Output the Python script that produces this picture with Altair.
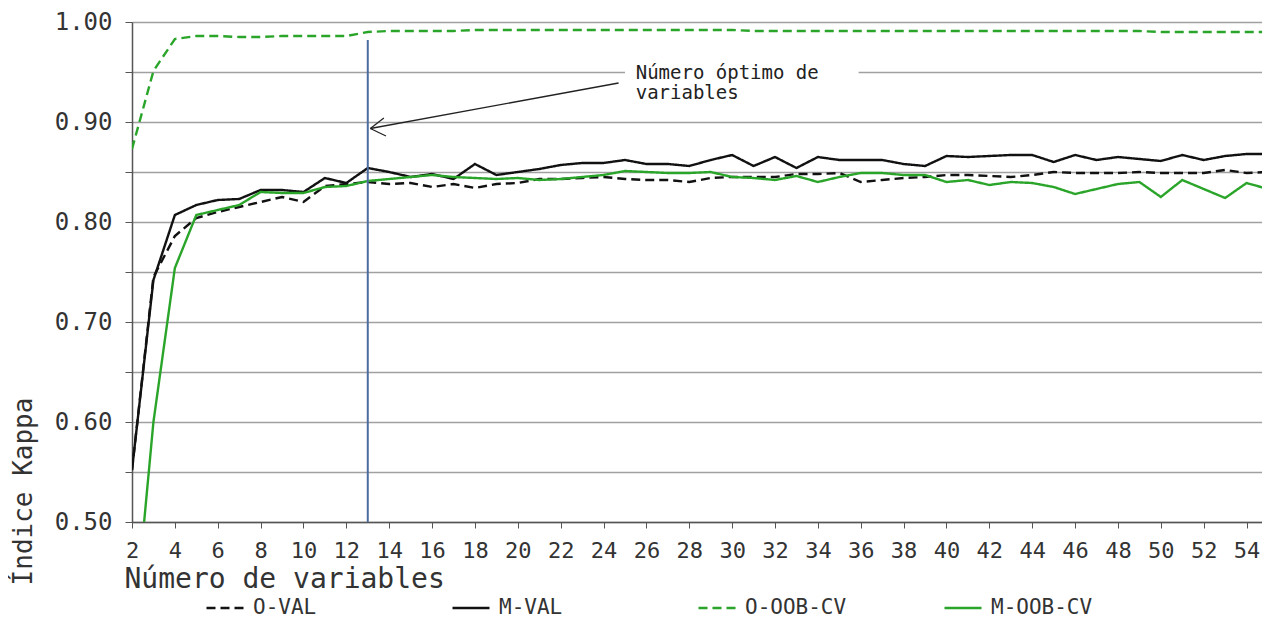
import altair as alt
import pandas as pd

# ---------------- data ----------------
x_vals = list(range(2, 56))

o_val = [0.552, 0.745, 0.786, 0.804, 0.810, 0.815, 0.820, 0.825, 0.820, 0.836,
         0.838, 0.840, 0.838, 0.839, 0.835, 0.838, 0.834, 0.838, 0.839, 0.843,
         0.843, 0.844, 0.845, 0.843, 0.842, 0.842, 0.840, 0.844, 0.845, 0.845,
         0.845, 0.848, 0.848, 0.849, 0.840, 0.842, 0.844, 0.845, 0.847, 0.847,
         0.846, 0.845, 0.847, 0.850, 0.849, 0.849, 0.849, 0.850, 0.849, 0.849,
         0.849, 0.852, 0.849, 0.850]

m_val = [0.552, 0.742, 0.807, 0.817, 0.822, 0.823, 0.832, 0.832, 0.830, 0.844,
         0.839, 0.854, 0.850, 0.845, 0.848, 0.843, 0.858, 0.847, 0.850, 0.853,
         0.857, 0.859, 0.859, 0.862, 0.858, 0.858, 0.856, 0.862, 0.867, 0.856,
         0.865, 0.854, 0.865, 0.862, 0.862, 0.862, 0.858, 0.856, 0.866, 0.865,
         0.866, 0.867, 0.867, 0.860, 0.867, 0.862, 0.865, 0.863, 0.861, 0.867,
         0.862, 0.866, 0.868, 0.868]

o_oob = [0.873, 0.951, 0.983, 0.986, 0.986, 0.985, 0.985, 0.986, 0.986, 0.986,
         0.986, 0.990, 0.991, 0.991, 0.991, 0.991, 0.992, 0.992, 0.992, 0.992,
         0.992, 0.992, 0.992, 0.992, 0.992, 0.992, 0.992, 0.992, 0.992, 0.991,
         0.991, 0.991, 0.991, 0.991, 0.991, 0.991, 0.991, 0.991, 0.991, 0.991,
         0.991, 0.991, 0.991, 0.991, 0.991, 0.991, 0.991, 0.991, 0.990, 0.990,
         0.990, 0.990, 0.990, 0.990]

m_oob = [0.370, 0.600, 0.754, 0.807, 0.812, 0.817, 0.830, 0.829, 0.829, 0.835,
         0.836, 0.841, 0.843, 0.845, 0.847, 0.845, 0.844, 0.843, 0.844, 0.842,
         0.843, 0.845, 0.847, 0.851, 0.850, 0.849, 0.849, 0.850, 0.845, 0.844,
         0.842, 0.846, 0.840, 0.845, 0.849, 0.849, 0.847, 0.847, 0.840, 0.842,
         0.837, 0.840, 0.839, 0.835, 0.828, 0.833, 0.838, 0.840, 0.825, 0.842,
         0.833, 0.824, 0.839, 0.833]

series_names = ["O-VAL", "M-VAL", "O-OOB-CV", "M-OOB-CV"]
series_colors = ["#111111", "#111111", "#2aa52a", "#2aa52a"]
series_dash = [[9, 5], [1, 0], [9, 5], [1, 0]]

y_ticks = [0.50, 0.55, 0.60, 0.65, 0.70, 0.75, 0.80, 0.85, 0.90, 0.95, 1.00]
optimal_n = 13
annotation_lines = ["Número óptimo de", "variables"]

# ---------------- tables ----------------
rows = []
for name, vals in zip(series_names, [o_val, m_val, o_oob, m_oob]):
    for x, v in zip(x_vals, vals):
        rows.append({"n": x, "kappa": v, "serie": name})
df = pd.DataFrame(rows)

FONT = "DejaVu Sans Mono"

x_scale = alt.Scale(domain=[2, 54.72], nice=False, zero=False)
y_scale = alt.Scale(domain=[0.5, 1.0], nice=False, zero=False)

x_axis = alt.Axis(
    values=x_vals[:-1],
    labelExpr="datum.value % 2 == 0 ? datum.value : ''",
    grid=False,
    title="Número de variables",
    titleFont=FONT, titleFontSize=28, titleFontWeight="normal", titleColor="#333",
    titleAnchor="start", titleAlign="left", titleX=-8, titleY=65, titleBaseline="alphabetic",
    labelFont=FONT, labelFontSize=22, labelColor="#333", labelPadding=12,
    tickSize=6, tickColor="#555", domainColor="#555", domainWidth=1.5,
    labelOverlap=False, labelFlush=False,
)
y_axis = alt.Axis(
    values=y_ticks,
    labelExpr="round(datum.value*100) % 10 == 0 ? format(datum.value, '.2f') : ''",
    grid=True, gridColor="#a0a0a0", gridWidth=1.5,
    title="Índice Kappa",
    titleFont=FONT, titleFontSize=26, titleFontWeight="normal", titleColor="#333",
    titleX=-101, titleY=469, titleAlign="center", titleBaseline="alphabetic", titleAngle=270,
    labelFont=FONT, labelFontSize=24, labelColor="#333", labelPadding=13,
    tickSize=7, tickColor="#555", domainColor="#555", domainWidth=1.5,
    labelOverlap=False,
)

legend = alt.Legend(
    orient="none", legendX=73, legendY=566, direction="horizontal", columns=4,
    title=None, symbolType="stroke", symbolSize=1369, symbolStrokeWidth=2.4,
    labelFont=FONT, labelFontSize=21, labelColor="#333", labelOffset=8,
    columnPadding=92, gridAlign="all",
)

lines = alt.Chart(df).mark_line(strokeWidth=2.4, clip=True).encode(
    x=alt.X("n:Q", scale=x_scale, axis=x_axis),
    y=alt.Y("kappa:Q", scale=y_scale, axis=y_axis),
    color=alt.Color("serie:N", scale=alt.Scale(domain=series_names, range=series_colors),
                    legend=legend, sort=series_names),
    strokeDash=alt.StrokeDash("serie:N", scale=alt.Scale(domain=series_names, range=series_dash),
                              legend=legend, sort=series_names),
    detail="serie:N",
)

vline_df = pd.DataFrame({"n": [optimal_n], "top": [0.982], "bottom": [0.5]})
vline = alt.Chart(vline_df).mark_rule(color="#4a6c9e", strokeWidth=2).encode(
    x="n:Q", y="top:Q", y2="bottom:Q"
)

# annotation: white box behind text, arrow and label
box_df = pd.DataFrame({"x1": [25.0], "x2": [35.9], "y1": [0.958], "y2": [0.914]})
box = alt.Chart(box_df).mark_rect(color="white").encode(
    x="x1:Q", x2="x2:Q", y="y1:Q", y2="y2:Q"
)

arrow_df = pd.DataFrame({
    "x1": [24.7, 13.12, 13.12],
    "y1": [0.939, 0.8935, 0.8935],
    "x2": [13.12, 13.75, 13.85],
    "y2": [0.8935, 0.904, 0.886],
})
arrow = alt.Chart(arrow_df).mark_rule(color="#222", strokeWidth=1.3).encode(
    x="x1:Q", y="y1:Q", x2="x2:Q", y2="y2:Q"
)

text_df = pd.DataFrame({"x": [25.5, 25.5], "y": [0.9495, 0.9295], "t": annotation_lines})
text = alt.Chart(text_df).mark_text(
    align="left", baseline="middle", font=FONT, fontSize=19, color="#222"
).encode(x="x:Q", y="y:Q", text="t:N")

chart = alt.layer(lines, vline, box, arrow, text).properties(
    width=1130, height=500,
    autosize=alt.AutoSizeParams(type="none"),
    padding={"left": 124, "top": 14, "right": 0, "bottom": 96},
).configure_view(stroke="#666", strokeWidth=1.5).configure(background="white")

chart.save("out.html", embed_options={"renderer": "svg", "actions": False})
